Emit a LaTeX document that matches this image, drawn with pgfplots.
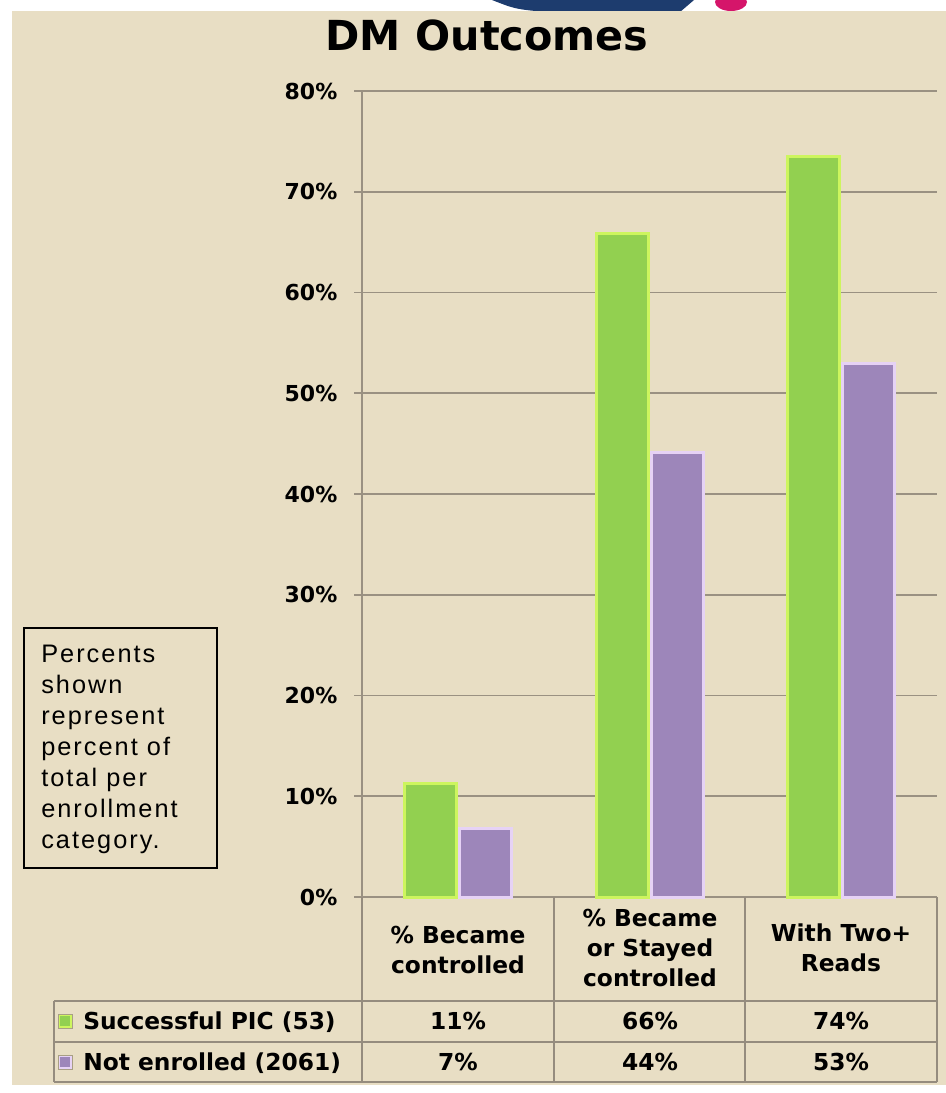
\documentclass[border=0pt]{standalone}
\usepackage{fontspec}
\setmainfont{DejaVu Sans}
\newfontfamily\arialf{Liberation Sans}[LetterSpace=8]
\usepackage{pgfplots}
\pgfplotsset{compat=1.18}
\definecolor{bg}{HTML}{E8DEC4}
\definecolor{gridc}{HTML}{9A9182}
\definecolor{tabc}{HTML}{958C7E}
\definecolor{pgreen}{HTML}{92D050}
\definecolor{lgreen}{HTML}{CDF55E}
\definecolor{ppurple}{HTML}{9D86BA}
\definecolor{lpurple}{HTML}{E6D2F5}
\definecolor{navy}{HTML}{1D3C6E}
\definecolor{pinkc}{HTML}{D5156A}
\definecolor{edgec}{HTML}{A89F84}
\begin{document}
\begin{tikzpicture}
\begin{scope}[x=0.75pt,y=-0.75pt]
\fill[white] (0,0) rectangle (946,1093);
\begin{scope}
\clip (0,0) rectangle (946,12);
\fill[navy] (492,0) -- (694,0) -- (680,12) -- (545,12) .. controls (515,9) .. (492,0);
\fill[pinkc] (731,2) ellipse [x radius=16, y radius=9];
\end{scope}
\fill[bg] (12,11) rectangle (946,1085);
\node[font=\bfseries\fontsize{31}{36}\selectfont, anchor=base] at (487,50) {DM Outcomes};
\end{scope}

\begin{axis}[
  at={(271.5pt,-672.75pt)}, anchor=south west,
  scale only axis, width=431.25pt, height=604.5pt,
  xmin=-0.5, xmax=2.5, ymin=0, ymax=80,
  xtick=\empty,
  ytick={0,10,...,80},
  yticklabel={\pgfmathprintnumber{\tick}\%},
  /pgf/number format/assume math mode=true,
  yticklabel style={font=\bfseries\fontsize{16.5}{18}\selectfont, black, xshift=-9pt},
  ymajorgrids, grid style={gridc, line width=1.3pt},
  axis x line*=bottom, axis y line*=left,
  axis line style={gridc, line width=1.3pt},
  ytick pos=left, tick align=outside, major tick length=6pt,
  y tick style={gridc, line width=1.3pt},
  clip=false,
  ybar, bar width=39pt,
]
\addplot[fill=pgreen, draw=lgreen, line width=2.25pt, bar shift=-20.625pt] coordinates {(0,11.3) (1,65.9) (2,73.5)};
\addplot[fill=ppurple, draw=lpurple, line width=2.25pt, bar shift=20.625pt] coordinates {(0,6.8) (1,44.1) (2,53.0)};
\end{axis}

\begin{scope}[x=0.75pt,y=-0.75pt]
% table grid
\draw[tabc, line width=1.3pt] (362,897) -- (362,1082);
\draw[tabc, line width=1.3pt] (554,897) -- (554,1082);
\draw[tabc, line width=1.3pt] (745,897) -- (745,1082);
\draw[tabc, line width=1.3pt] (937,897) -- (937,1082);
\draw[tabc, line width=1.3pt] (54,1001) -- (937,1001);
\draw[tabc, line width=1.3pt] (54,1042) -- (937,1042);
\draw[tabc, line width=1.3pt] (54,1082) -- (937,1082);
\draw[tabc, line width=1.3pt] (54,1001) -- (54,1082);
% header labels
\begin{scope}[every node/.style={font=\bfseries\fontsize{17.5}{22.5}\selectfont, align=center, anchor=center}]
\node at (458,950) {\% Became\\controlled};
\node at (650,948) {\% Became\\or Stayed\\controlled};
\node at (841,948) {With Two+\\Reads};
\end{scope}
% data rows
\begin{scope}[every node/.style={font=\bfseries\fontsize{17.5}{18}\selectfont, anchor=base}]
\node at (458,1029) {11\%};
\node at (650,1029) {66\%};
\node at (841,1029) {74\%};
\node at (458,1070) {7\%};
\node at (650,1070) {44\%};
\node at (841,1070) {53\%};
\node[anchor=base west, inner sep=0pt] at (83,1029) {Successful PIC (53)};
\node[anchor=base west, inner sep=0pt] at (83,1070) {Not enrolled (2061)};
\end{scope}
\filldraw[fill=pgreen, draw=lgreen, line width=1pt] (59,1015) rectangle (71,1027);
\filldraw[fill=ppurple, draw=lpurple, line width=1pt] (59,1056) rectangle (71,1068);
\draw[edgec, line width=0.5pt] (58,1014) rectangle (72,1028);
\draw[edgec, line width=0.5pt] (58,1055) rectangle (72,1069);
% note box
\draw[black, line width=1.5pt] (24,628) rectangle (217,868);
\begin{scope}[every node/.style={font=\arialf\fontsize{19}{20}\selectfont, anchor=base west, inner sep=0pt}]
\node at (41,662) {Percents};
\node at (41,693) {shown};
\node at (41,724) {represent};
\node at (41,755) {percent of};
\node at (41,786) {total per};
\node at (41,817) {enrollment};
\node at (41,848) {category.};
\end{scope}
\end{scope}
\end{tikzpicture}
\end{document}
